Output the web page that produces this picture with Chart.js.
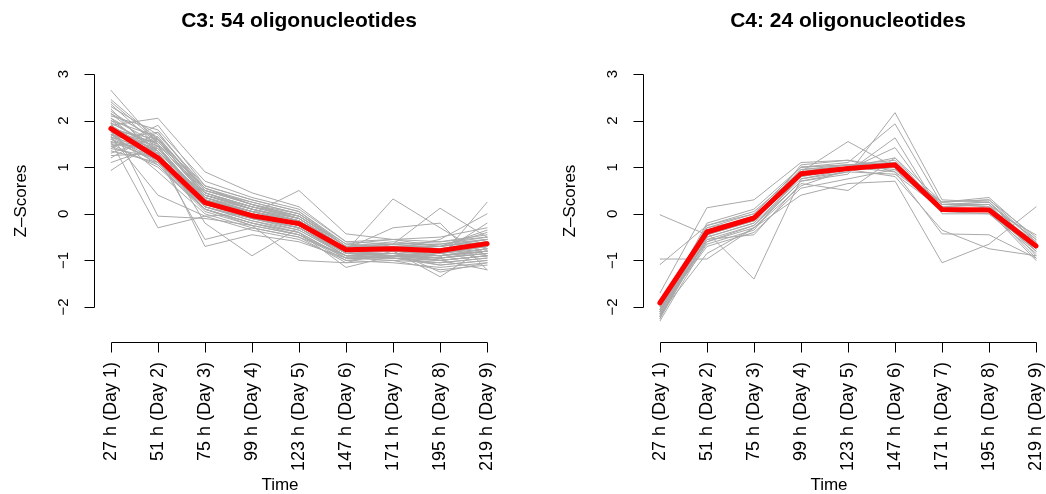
<!DOCTYPE html>
<html>
<head>
<meta charset="utf-8">
<title>C3 / C4 oligonucleotide profiles</title>
<script src="https://cdn.jsdelivr.net/npm/chart.js@4.4.1/dist/chart.umd.min.js"></script>
<style>
  html, body { margin:0; padding:0; background:#fff; overflow:hidden; }
  #wrap  { position:relative; width:1046px; height:494px; overflow:hidden; }
  canvas { position:absolute; top:0; }
</style>
</head>
<body>
<div id="wrap">
  <canvas id="c3" width="549" height="494" style="left:0"></canvas>
  <canvas id="c4" width="549" height="494" style="left:549px"></canvas>
</div>
<script>
// ═══════════════════════════════════════════════
// Cluster profiles C3 / C4 — Z-scores over time
// ═══════════════════════════════════════════════

const timeLabels = ['27 h (Day 1)','51 h (Day 2)','75 h (Day 3)','99 h (Day 4)','123 h (Day 5)',
                    '147 h (Day 6)','171 h (Day 7)','195 h (Day 8)','219 h (Day 9)'];
const yTicks     = [-2, -1, 0, 1, 2, 3];
const yTickText  = ['\u22122', '\u22121', '0', '1', '2', '3'];
const xTitle     = 'Time';
const yTitle     = 'Z\u2013Scores';

const c3Title = 'C3: 54 oligonucleotides';
const c3Mean  = [1.83, 1.20, 0.24, -0.04, -0.21, -0.77, -0.75, -0.79, -0.64];
const c3Profiles = [
  [2.65, 1.50, 0.40, 0.10, -0.15, -0.80, -0.70, -0.85, -0.60],
  [2.45, 1.60, 0.55, 0.20, -0.05, -0.70, -0.75, -0.70, -0.55],
  [2.35, 1.45, 0.30, 0.05, -0.20, -0.85, -0.90, -0.95, -0.80],
  [2.30, 1.70, 0.60, 0.30, 0.05, -0.65, -0.55, -0.60, -0.45],
  [2.20, 1.55, 0.45, 0.15, -0.10, -0.75, -0.80, -0.75, -0.70],
  [2.15, 1.35, 0.25, -0.10, -0.30, -0.90, -0.85, -1.00, -0.90],
  [2.10, 1.80, 0.70, 0.35, 0.10, -0.60, -0.65, -0.65, -0.50],
  [2.05, 1.25, 0.15, -0.15, -0.40, -0.95, -0.95, -1.10, -1.00],
  [2.00, 1.65, 0.50, 0.25, 0.00, -0.70, -0.60, -0.70, -0.40],
  [1.95, 1.40, 0.35, 0.00, -0.25, -0.80, -0.80, -0.90, -0.75],
  [1.90, 2.05, 0.90, 0.45, 0.15, -0.60, -0.55, -0.50, -0.30],
  [1.90, 1.30, 0.20, -0.05, -0.30, -0.85, -0.90, -0.95, -0.85],
  [1.85, 1.50, 0.40, 0.10, -0.10, -0.75, -0.70, -0.80, -0.65],
  [1.85, 1.10, 0.10, -0.20, -0.45, -1.00, -1.05, -1.15, -1.05],
  [1.80, 1.60, 0.55, 0.20, 0.00, -0.65, -0.70, -0.70, -0.55],
  [1.80, 1.20, 0.20, -0.10, -0.35, -0.90, -0.85, -0.90, -0.80],
  [1.75, 1.45, 0.30, 0.00, -0.20, -0.80, -0.75, -0.85, -0.70],
  [1.75, 0.90, 0.00, -0.30, -0.50, -1.05, -1.00, -1.20, -1.10],
  [1.70, 1.55, 0.45, 0.15, -0.05, -0.70, -0.65, -0.75, -0.60],
  [1.70, 1.05, 0.05, -0.25, -0.45, -0.95, -0.95, -1.05, -0.95],
  [1.65, 1.35, 0.30, 0.05, -0.15, -0.75, -0.80, -0.80, -0.65],
  [1.65, 0.40, -0.05, -0.35, -0.55, -1.00, -0.90, -1.00, -0.90],
  [1.60, 1.25, 0.20, -0.05, -0.30, -0.85, -0.80, -0.85, -0.75],
  [1.60, 1.75, 0.50, 0.20, -0.10, -0.75, -0.70, -0.65, -0.55],
  [1.55, 1.15, 0.15, -0.15, -0.35, -0.90, -0.85, -0.95, -0.85],
  [1.55, -0.30, -0.05, 0.00, -0.20, -0.80, -0.75, -0.90, -0.80],
  [1.50, 1.40, 0.35, 0.05, -0.20, -0.80, -0.75, -0.80, -0.70],
  [1.50, 1.00, 0.10, -0.20, -0.40, -0.95, -1.00, -1.05, -0.95],
  [1.45, 1.60, 0.40, 0.10, -0.15, -0.75, -0.70, -0.75, -0.60],
  [1.40, 1.20, 0.25, -0.05, -0.25, -0.85, -0.80, -0.85, -0.70],
  [1.40, 1.90, 0.60, 0.30, 0.05, -0.70, -0.65, -0.60, -0.50],
  [1.35, 1.10, 0.15, -0.10, -0.30, -0.90, -0.90, -0.90, -0.80],
  [1.30, 1.65, 0.45, 0.15, -0.10, -0.80, -0.75, -0.80, -0.65],
  [1.25, 1.30, 0.20, 0.00, -0.25, -0.85, -0.85, -0.90, -0.75],
  [1.20, 1.75, 0.55, 0.25, 0.00, -0.70, -0.70, -0.70, -0.55],
  [1.10, 1.45, 0.30, 0.05, -0.15, -0.80, -0.80, -0.85, -0.70],
  [0.93, 1.60, 0.35, 0.10, -0.10, -0.75, -0.75, -0.80, -0.60],
  [2.25, 1.20, -0.55, -0.30, -0.50, -0.90, -0.95, -1.00, -0.90],
  [2.00, 1.35, -0.70, -0.45, -0.60, -0.95, -0.90, -1.10, -1.00],
  [1.95, -0.05, -0.10, -0.25, -0.45, -0.90, -0.95, -1.00, -0.90],
  [1.85, 1.50, -0.20, -0.90, -0.30, -0.85, -0.85, -0.95, -0.85],
  [1.75, 1.30, 0.20, 0.00, 0.50, -0.43, -0.55, -0.70, -0.60],
  [1.65, 1.15, 0.10, -0.25, -1.00, -1.05, -0.80, -0.90, -0.80],
  [1.70, 1.40, 0.30, 0.05, -0.20, -0.80, 0.32, -0.30, -0.90],
  [1.90, 1.25, 0.25, -0.05, -0.25, -0.75, -0.30, -0.20, -1.20],
  [1.60, 1.10, 0.15, -0.10, -0.30, -0.85, -0.65, 0.12, -0.50],
  [1.80, 1.35, 0.35, 0.05, -0.20, -0.85, -0.90, -0.95, 0.25],
  [2.05, 1.50, 0.40, 0.10, -0.15, -0.80, -0.80, -1.35, -0.70],
  [1.45, 1.05, 0.10, -0.20, -0.40, -1.15, -0.90, -1.00, -1.20],
  [2.15, 1.60, 0.50, 0.20, -0.05, -0.70, -0.75, -0.55, 0.00],
  [1.70, 1.20, 0.30, 0.00, -0.20, -0.80, -0.70, -0.70, -0.35],
  [1.55, 1.35, 0.40, 0.15, -0.05, -0.75, -0.75, -0.85, -0.20],
  [1.95, 1.45, 0.20, -0.05, -0.25, -0.75, -0.80, -1.25, -1.05],
  [2.40, 1.55, 0.45, 0.10, -0.15, -0.80, -0.70, -0.80, -0.65]
];

const c4Title = 'C4: 24 oligonucleotides';
const c4Mean  = [-1.91, -0.39, -0.09, 0.86, 0.97, 1.05, 0.09, 0.08, -0.69];
const c4Profiles = [
  [-0.02, -0.45, -0.10, 0.80, 0.95, 1.00, 0.10, 0.10, -0.60],
  [-0.97, -0.97, -0.30, 0.60, 0.95, 1.10, 0.05, 0.00, -0.75],
  [-1.09, -0.25, 0.05, 0.90, 1.00, 1.05, 0.15, 0.20, -0.55],
  [-1.70, 0.13, 0.30, 1.10, 1.15, 1.00, 0.25, 0.30, -0.50],
  [-2.05, -0.20, 0.10, 1.00, 1.05, 1.10, 0.20, 0.25, -0.60],
  [-2.10, -0.35, -0.05, 0.95, 1.00, 1.20, 0.10, 0.10, -0.70],
  [-2.15, -0.40, -0.10, 0.85, 0.95, 1.42, 0.05, 0.05, -0.80],
  [-2.20, -0.50, -0.20, 0.75, 0.90, 1.63, 0.00, 0.00, -0.85],
  [-2.25, -0.30, 0.00, 1.00, 1.10, 1.93, 0.20, 0.15, -0.65],
  [-2.00, -0.60, -0.30, 0.70, 0.85, 2.17, 0.30, 0.25, -0.75],
  [-2.10, -0.45, -0.15, 0.80, 1.00, 0.90, 0.15, 0.20, -0.90],
  [-2.20, -0.55, -0.25, 0.70, 0.90, 0.85, 0.10, 0.10, -0.95],
  [-2.05, -0.70, -0.40, 0.55, 0.75, 0.95, 0.05, 0.05, -1.00],
  [-2.15, -0.85, -0.30, 0.40, 0.65, 0.70, -1.05, -0.65, 0.15],
  [-2.00, -0.40, -1.40, 0.75, 0.95, 1.00, 0.20, 0.20, -0.80],
  [-2.20, -0.35, -0.05, 0.90, 1.55, 1.00, 0.20, 0.25, -0.70],
  [-2.10, -0.55, -0.45, 0.65, 0.50, 1.20, 0.25, 0.30, -0.60],
  [-2.25, -0.50, -0.20, 1.05, 1.15, 0.90, -0.43, -0.45, -0.95],
  [-2.05, -0.65, -0.35, 0.85, 0.95, 0.80, -0.35, -0.75, -0.90],
  [-2.15, -0.30, -0.10, 0.95, 1.05, 1.10, 0.10, 0.10, -0.45],
  [-2.20, -0.45, -0.15, 0.90, 0.95, 1.00, 0.05, 0.15, -0.65],
  [-2.30, -0.60, -0.25, 0.80, 1.00, 1.05, 0.15, 0.05, -0.80],
  [-2.10, -0.25, 0.00, 1.00, 1.05, 0.95, 0.25, 0.35, -0.55],
  [-2.05, -0.40, -0.15, 0.90, 1.05, 1.15, 0.10, 0.10, -0.70]
];

const FONT = '"Liberation Sans", Arial, Helvetica, sans-serif';

// base-graphics style axes, titles and labels drawn from the chart's own scales
const rAxes = {
  id: 'rAxes',
  afterDraw(chart, args, opts) {
    const ctx  = chart.ctx;
    const xs   = chart.scales.x;
    const ys   = chart.scales.y;
    const area = chart.chartArea;

    ctx.save();
    ctx.strokeStyle = '#000';
    ctx.fillStyle   = '#000';
    ctx.lineWidth   = 1;

    const yb = Math.round(area.bottom) + 0.5;
    const xl = Math.round(area.left) + 0.5;

    ctx.beginPath();
    ctx.moveTo(Math.round(xs.getPixelForValue(1)) + 0.5, yb);
    ctx.lineTo(Math.round(xs.getPixelForValue(timeLabels.length)) + 0.5, yb);
    timeLabels.forEach((t, i) => {
      const px = Math.round(xs.getPixelForValue(i + 1)) + 0.5;
      ctx.moveTo(px, yb);
      ctx.lineTo(px, yb + 10);
    });
    ctx.moveTo(xl, Math.round(ys.getPixelForValue(yTicks[0])) + 0.5);
    ctx.lineTo(xl, Math.round(ys.getPixelForValue(yTicks[yTicks.length - 1])) + 0.5);
    yTicks.forEach(v => {
      const py = Math.round(ys.getPixelForValue(v)) + 0.5;
      ctx.moveTo(xl, py);
      ctx.lineTo(xl - 10, py);
    });
    ctx.stroke();

    // x tick labels, perpendicular to the axis
    ctx.font = '18px ' + FONT;
    ctx.textAlign = 'right';
    ctx.textBaseline = 'alphabetic';
    timeLabels.forEach((t, i) => {
      const px = xs.getPixelForValue(i + 1);
      ctx.save();
      ctx.translate(px + 5, area.bottom + 20);
      ctx.rotate(-Math.PI / 2);
      ctx.fillText(t, 0, 0);
      ctx.restore();
    });

    // y tick labels, parallel to the axis
    ctx.font = '15px ' + FONT;
    ctx.textAlign = 'center';
    yTicks.forEach((v, i) => {
      ctx.save();
      ctx.translate(area.left - 26, ys.getPixelForValue(v));
      ctx.rotate(-Math.PI / 2);
      ctx.fillText(yTickText[i], 0, 0);
      ctx.restore();
    });

    // axis titles
    ctx.font = '17px ' + FONT;
    ctx.fillText(xTitle, (area.left + area.right) / 2 - 19, 490);
    ctx.save();
    ctx.translate(26, (area.top + area.bottom) / 2);
    ctx.rotate(-Math.PI / 2);
    ctx.fillText(yTitle, 0, 0);
    ctx.restore();

    // main title
    ctx.font = 'bold 21px ' + FONT;
    ctx.fillText(opts.title, (area.left + area.right) / 2, 27);
    ctx.restore();
  }
};

function toPoints(vals) {
  return vals.map((v, i) => ({ x: i + 1, y: v }));
}

function makePanel(id, title, profiles, mean) {
  const datasets = [{
    data: toPoints(mean),
    borderColor: '#ff0000',
    borderWidth: 5,
    order: 0
  }].concat(profiles.map(p => ({
    data: toPoints(p),
    borderColor: '#a9a9a9',
    borderWidth: 1,
    order: 1
  })));

  return new Chart(document.getElementById(id), {
    type: 'line',
    data: { datasets },
    options: {
      responsive: false,
      animation: false,
      events: [],
      layout: { padding: { left: 94, right: 45, top: 60, bottom: 152 } },
      elements: {
        point: { radius: 0, hoverRadius: 0 },
        line:  { tension: 0, borderJoinStyle: 'round', borderCapStyle: 'round', fill: false }
      },
      plugins: {
        legend:  { display: false },
        tooltip: { enabled: false },
        rAxes:   { title }
      },
      scales: {
        x: { type: 'linear', min: 0.64, max: 9.36, display: false },
        y: { type: 'linear', min: -2.75, max: 3.3, display: false }
      }
    },
    plugins: [rAxes]
  });
}

makePanel('c3', c3Title, c3Profiles, c3Mean);
makePanel('c4', c4Title, c4Profiles, c4Mean);
</script>
</body>
</html>
